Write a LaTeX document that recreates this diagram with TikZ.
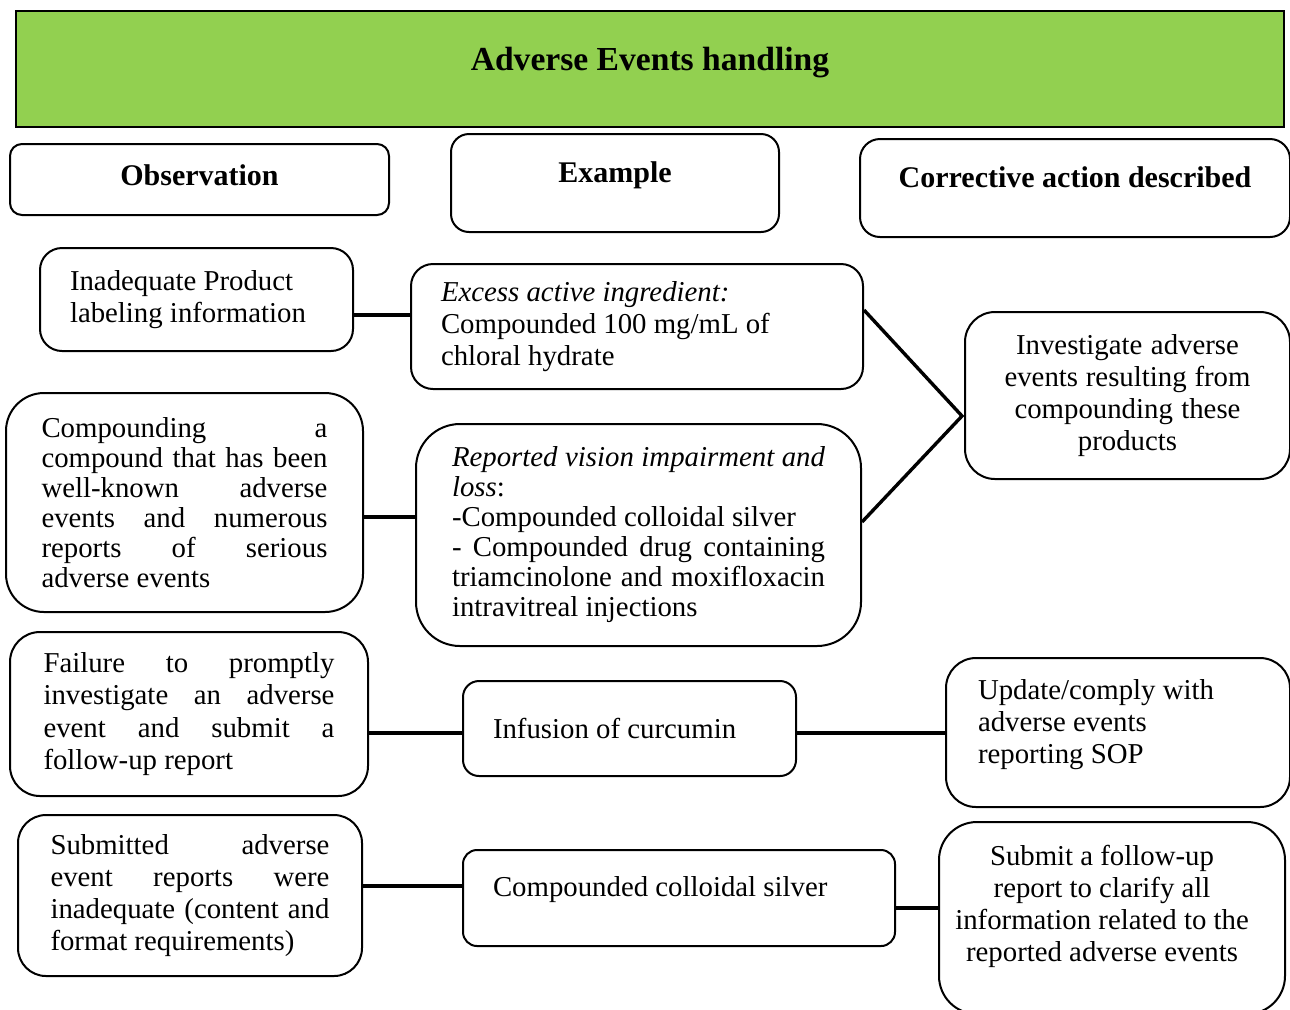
\documentclass[tikz,border=0pt]{standalone}
\usepackage{fontspec}
\setmainfont{Liberation Serif}
\usepackage{xcolor}
\usepackage{tikz}
\usetikzlibrary{calc}
\definecolor{titlegreen}{HTML}{92D050}
\newcommand{\bodyfont}{\fontsize{14.4}{16}\selectfont}
\newcommand{\jl}[1]{\makebox[\linewidth][s]{\spaceskip=0pt\xspaceskip=0pt #1}}
\newcommand{\lowpad}[1]{\par\nointerlineskip\kern#1\hbox{}}
\tikzset{
    box/.style={draw, line width=1pt, rounded corners=#1, inner ysep=0pt, font=\bodyfont,
      execute at begin node={\spaceskip=0pt\xspaceskip=0pt\hyphenpenalty=10000}},
    box/.default=10pt,
    head/.style={box=#1, font=\fontsize{15}{18}\selectfont\bfseries},
    link/.style={line width=1.7pt}}

\begin{document}
\begin{tikzpicture}[x=0.5pt,y=-0.5pt]
\useasboundingbox (0,0) rectangle (1290,1009);

\node[draw, line width=1.4pt, fill=titlegreen, minimum width=634pt, minimum height=58pt,
  font=\fontsize{16.8}{20}\selectfont\bfseries, text depth=10.5pt] (title) at (650,69) {Adverse Events handling};

\node[head=6pt, minimum width=189.5pt, minimum height=35.5pt, text depth=4pt] (hobs) at (199.5,179.5) {Observation};
\node[head=9pt, minimum width=164pt, minimum height=49pt, text depth=10.7pt] (hex) at (615,183) {Example};
\node[head=10pt, minimum width=215pt, minimum height=49pt, text depth=11.2pt] (hact) at (1075,188) {Corrective action described};

% observations
\node[box=11pt, text width=126.5pt, inner xsep=15pt, minimum height=51.5pt, align=left] (obsA) at (196.5,299.5)
  {Inadequate Product\\ labeling information};
\node[box=19pt, text width=143pt, inner xsep=17.75pt, minimum height=109.5pt, align=left,
  font=\fontsize{14.4}{15}\selectfont] (obsB) at (184.5,502.5)
  {\jl{Compounding a}\\ \jl{compound that has been}\\ \jl{well-known adverse}\\
   \jl{events and numerous}\\ \jl{reports of serious}\\ adverse events};
\node[box=15pt, text width=145.5pt, inner xsep=16.75pt, minimum height=82pt, align=left,
  font=\fontsize{14.4}{16.2}\selectfont] (obsC) at (189,714)
  {\jl{Failure to promptly}\\ \jl{investigate an adverse}\\ \jl{event and submit a}\\ follow-up report};
\node[box=14pt, text width=139.5pt, inner xsep=16.25pt, minimum height=80.5pt, align=left] (obsD) at (190,895.5)
  {\jl{Submitted adverse}\\ \jl{event reports were}\\ \jl{inadequate (content and}\\ format requirements)};

% examples
\node[box=11pt, text width=196pt, inner xsep=15pt, minimum height=62.5pt, align=left] (exA) at (637,326.5)
  {\textit{Excess active ingredient:}\\ Compounded 100 mg/mL of\\ chloral hydrate};
\node[box=22pt, text width=186.5pt, inner xsep=18pt, minimum height=111pt, align=left,
  font=\fontsize{14.4}{15}\selectfont] (exB) at (638.5,535)
  {\jl{\itshape Reported vision impairment and}\\ \textit{loss}:\\ -Compounded colloidal silver\\
   \jl{- Compounded drug containing}\\ \jl{triamcinolone and moxifloxacin}\\ intravitreal injections};
\node[box=8pt, text width=136.5pt, inner xsep=15pt, minimum height=47.5pt, align=left] (exC) at (629.5,728.5)
  {Infusion of curcumin};
\node[box=7pt, text width=186pt, inner xsep=15pt, minimum height=48pt, text depth=11.2pt, align=left] (exD) at (679,898)
  {Compounded colloidal silver};

% corrective actions
\node[box=15pt, text width=132.5pt, inner xsep=15pt, minimum height=83.5pt, align=center] (actA) at (1127.5,395.5)
  {Investigate adverse\\ events resulting from\\ compounding these\\ products};
\node[box=15pt, text width=140pt, inner xsep=16pt, minimum height=74.5pt, align=left] (actB) at (1118,732.5)
  {Update/comply with\\ adverse events\\ reporting SOP\lowpad{7.5pt}};
\node[box=19pt, text width=166pt, inner xsep=3.5pt, minimum height=96pt, align=left] (actC) at (1112,918)
  {\leftskip=0pt plus 1fil\rightskip=10pt plus 1fil\parfillskip=0pt
   Submit a follow-up\\ report to clarify all\\ information related to the\\
   reported adverse events\lowpad{12pt}};

\coordinate (rowA) at (0,315);
\coordinate (rowB) at (0,517);
\coordinate (rowC) at (0,733);
\coordinate (rowD) at (0,886);
\coordinate (rowE) at (0,908);
\coordinate (vtop) at (0,310);
\coordinate (vbot) at (0,522);
\coordinate (join) at (962,416);

\draw[link] (obsA.east |- rowA) -- (exA.west |- rowA);
\draw[link] (obsB.east |- rowB) -- (exB.west |- rowB);
\draw[link] (exA.east |- vtop) -- (join) -- (exB.east |- vbot);
\draw[link] (obsC.east |- rowC) -- (exC.west |- rowC);
\draw[link] (exC.east |- rowC) -- (actB.west |- rowC);
\draw[link] (obsD.east |- rowD) -- (exD.west |- rowD);
\draw[link] (exD.east |- rowE) -- (actC.west |- rowE);
\end{tikzpicture}
\end{document}
